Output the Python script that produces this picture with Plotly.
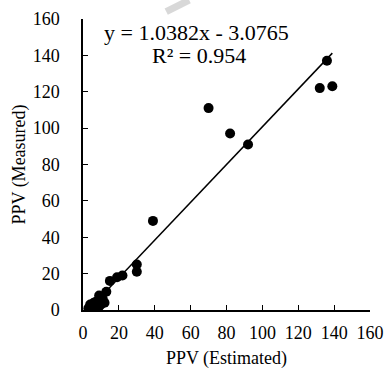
import plotly.graph_objects as go

# Data
ppv_estimated = [3, 4, 5, 6, 7, 8, 9, 10, 11, 12, 9, 13, 15, 19, 22, 30, 30, 39, 70, 82, 92, 132, 136, 139]
ppv_measured = [1, 3, 2, 4, 1, 5, 2, 3, 6, 4, 8, 10, 16, 18, 19, 25, 21, 49, 111, 97, 91, 122, 137, 123]
slope = 1.0382
intercept = -3.0765
r_squared = 0.954
tick_vals = [0, 20, 40, 60, 80, 100, 120, 140, 160]

xmin, xmax = min(ppv_estimated), max(ppv_estimated)
trend_x = [xmin, xmax]
trend_y = [slope * v + intercept for v in trend_x]

font_family = "Liberation Serif, Times New Roman, serif"

fig = go.Figure()
fig.add_trace(go.Scatter(
    x=trend_x, y=trend_y, mode="lines",
    line=dict(color="black", width=1.5), showlegend=False, hoverinfo="skip"))
fig.add_trace(go.Scatter(
    x=ppv_estimated, y=ppv_measured, mode="markers",
    marker=dict(color="black", size=10), showlegend=False))

fig.add_annotation(
    x=0.397, y=0.952, xref="paper", yref="paper", xanchor="center", yanchor="middle",
    text=f"y = {slope:.4f}x - {abs(intercept):.4f}", showarrow=False,
    font=dict(family=font_family, size=22, color="black"))
fig.add_annotation(
    x=0.404, y=0.876, xref="paper", yref="paper", xanchor="center", yanchor="middle",
    text=f"R² = {r_squared}", showarrow=False,
    font=dict(family=font_family, size=22, color="black"))

# faint watermark stroke
fig.add_shape(type="line", xref="paper", yref="paper",
              x0=0.29, y0=1.025, x1=0.37, y1=1.065,
              line=dict(color="rgba(200,200,200,0.7)", width=7))

axis_common = dict(
    range=[0, 160], tickvals=tick_vals, showgrid=False, zeroline=False,
    showline=True, linecolor="black", linewidth=1.5,
    ticks="inside", ticklen=5, tickwidth=1.2, tickcolor="black",
    tickfont=dict(family=font_family, size=18, color="black"),
    title_font=dict(family=font_family, size=18, color="black"),
)

fig.update_xaxes(**axis_common, title_text="PPV (Estimated)", title_standoff=9,
                 ticklabelstandoff=6)
fig.update_yaxes(**axis_common, title_text="PPV (Measured)", title_standoff=2,
                 ticklabelstandoff=18)

fig.update_layout(
    width=387, height=372,
    margin=dict(l=83, r=17, t=19, b=62, autoexpand=False),
    paper_bgcolor="white", plot_bgcolor="white",
)

fig.write_html("out.html")
